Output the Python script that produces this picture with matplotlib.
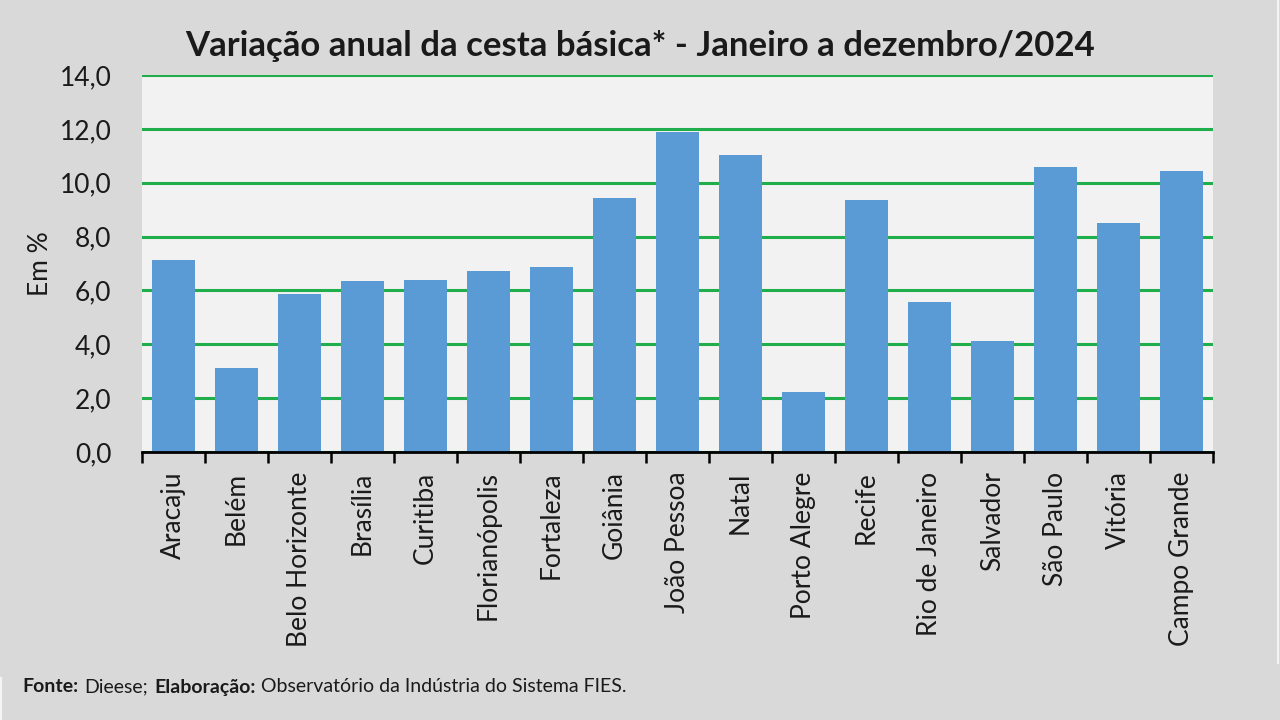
import numpy as np
import matplotlib.pyplot as plt
from matplotlib.lines import Line2D
from matplotlib.ticker import FixedLocator

plt.rcParams['font.family'] = ['Lato', 'DejaVu Sans']

# dados
cidades = [
    "Aracaju", "Belém", "Belo Horizonte", "Brasília", "Curitiba",
    "Florianópolis", "Fortaleza", "Goiânia", "João Pessoa", "Natal",
    "Porto Alegre", "Recife", "Rio de Janeiro", "Salvador", "São Paulo",
    "Vitória", "Campo Grande"
]
variacao = [7.13, 3.13, 5.85, 6.35, 6.39, 6.72, 6.87, 9.42, 11.90, 11.04,
            2.21, 9.35, 5.56, 4.11, 10.58, 8.51, 10.43]
y_ticks = [0, 2, 4, 6, 8, 10, 12, 14]
y_labels = ["0,0", "2,0", "4,0", "6,0", "8,0", "10,0", "12,0", "14,0"]

BG = "#d9d9d9"
PLOT_BG = "#f2f2f2"
BAR = "#5b9bd5"
GRID = "#1fae4b"
TXT = "#1a1a1a"

fig = plt.figure(figsize=(12.8, 7.2), dpi=100, facecolor=BG)
# área do gráfico em pixels: x 142-1213, y 75-452
ax = fig.add_axes([142 / 1280, 1 - 452 / 720, (1213 - 142) / 1280, (452 - 75) / 720])
ax.set_facecolor(PLOT_BG)

x = np.arange(len(cidades))
ax.bar(x, variacao, width=0.68, color=BAR, zorder=3)

ax.set_xlim(-0.5, len(cidades) - 0.5)
ax.set_ylim(0, 14)

ax.set_yticks(y_ticks)
ax.set_yticklabels(y_labels, fontsize=19, color=TXT)
ax.yaxis.grid(True, color=GRID, linewidth=2.2, zorder=1)
ax.tick_params(axis='y', length=0, pad=22)

ax.set_xticks(x)
ax.set_xticklabels(cidades, rotation=90, fontsize=19, color=TXT)
ax.xaxis.set_minor_locator(FixedLocator(np.arange(-0.5, len(cidades), 1.0)))
ax.tick_params(axis='x', which='major', direction='in', length=5, width=1.8,
               pad=14, color="black")
ax.tick_params(axis='x', which='minor', direction='out', length=8, width=1.8,
               color="black")

for s in ['left', 'right', 'top']:
    ax.spines[s].set_visible(False)
ax.spines['bottom'].set_linewidth(2)
ax.spines['bottom'].set_color("black")
ax.spines['bottom'].set_zorder(4)

ax.set_ylabel("Em %", fontsize=19, color=TXT)
ax.yaxis.set_label_coords(-0.083, 0.5)

fig.text(0.5, 1 - 46 / 720, "Variação anual da cesta básica* - Janeiro a dezembro/2024",
         ha='center', va='center', fontsize=25, fontweight='bold', color=TXT)

# rodapé: partes em negrito e normal, colocadas lado a lado
renderer = fig.canvas.get_renderer()
partes = [("Fonte:", 'bold'), ("Dieese;", 'normal'), ("Elaboração:", 'bold'),
          ("Observatório da Indústria do Sistema FIES.", 'normal')]
xpos = 22
for texto, peso in partes:
    t = fig.text(xpos / 1280, 1 - 687 / 720, texto, ha='left', va='center',
                 fontsize=14, fontweight=peso, color=TXT)
    xpos += t.get_window_extent(renderer).width + 6

# bordas claras do slide
fig.add_artist(Line2D([1277.5 / 1280] * 2, [1, 1 - 663 / 720], color="#f4f4f4", linewidth=1.5))
fig.add_artist(Line2D([1 / 1280] * 2, [1 - 678 / 720, 0], color="#f4f4f4", linewidth=1.5))

fig.savefig("out.png", dpi=100, facecolor=BG)
